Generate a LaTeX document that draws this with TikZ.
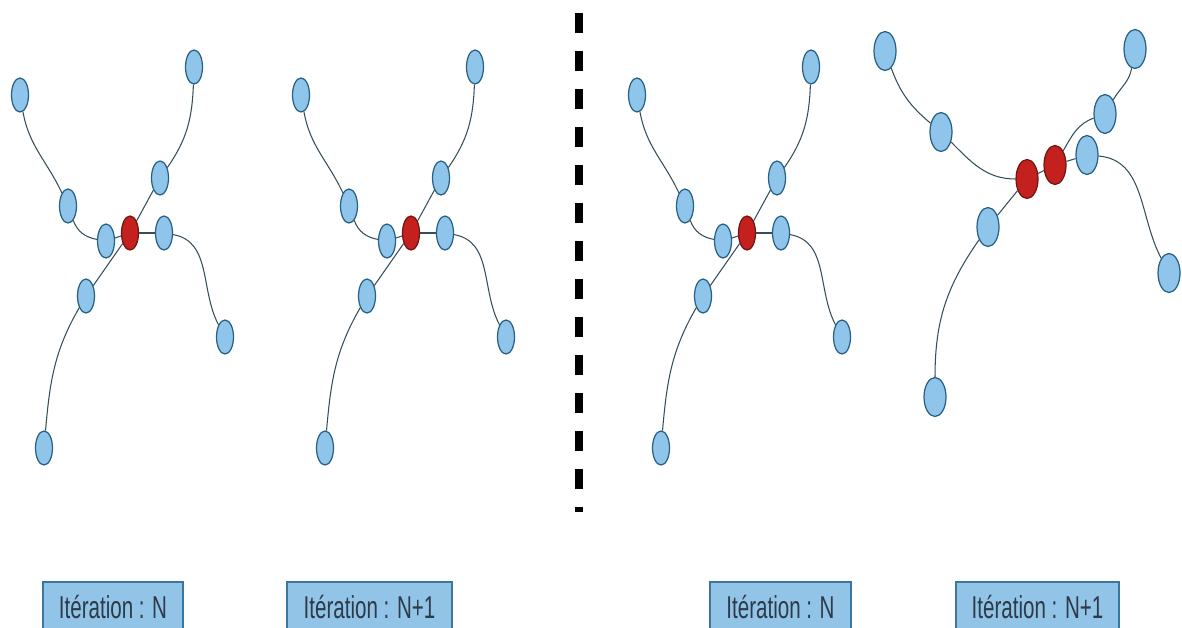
\documentclass[tikz,border=0pt]{standalone}
\usepackage{fontspec}
\newfontfamily\tagfont[FakeStretch=0.65]{Liberation Sans}
\usetikzlibrary{shapes.geometric}
\definecolor{nodeblue}{RGB}{143,197,235}
\definecolor{nodeedge}{RGB}{38,96,132}
\definecolor{nodered}{RGB}{196,32,30}
\definecolor{rededge}{RGB}{112,22,16}
\definecolor{linkgray}{RGB}{52,78,90}
\definecolor{tagblue}{RGB}{146,196,232}
\definecolor{tagedge}{RGB}{58,118,158}
\definecolor{tagtext}{RGB}{45,58,72}
\begin{document}
\begin{tikzpicture}[x=0.02cm,y=0.02cm,
    blob/.style={ellipse,draw=nodeedge,fill=nodeblue,line width=0.7pt,inner sep=0pt,
      minimum width=0.34cm,minimum height=0.68cm},
    hot/.style={blob,draw=rededge,fill=nodered},
    big/.style={minimum width=0.44cm,minimum height=0.78cm},
    link/.style={draw=linkgray,line width=0.6pt},
    tag/.style={draw=tagedge,fill=tagblue,line width=0.7pt,minimum height=1cm,
      text=tagtext,font=\tagfont\fontsize{18}{20}\selectfont}]
    \useasboundingbox (0,0) rectangle (1182,627);
    \clip (0,0) rectangle (1182,627);

    % same tree at iterations N and N+1, and at N again
    \foreach \dx/\g in {0/1,281/2,617/3}{
      \begin{scope}[shift={(\dx,0)}]
        \node[hot] (r\g) at (130,394) {};
        \node[blob] (a1\g) at (20,532) {};
        \node[blob] (a2\g) at (68,421) {};
        \node[blob] (a3\g) at (106,386) {};
        \node[blob] (b1\g) at (160,449) {};
        \node[blob] (b2\g) at (194,560) {};
        \node[blob] (c1\g) at (164,394) {};
        \node[blob] (c2\g) at (225,290) {};
        \node[blob] (d1\g) at (86,331) {};
        \node[blob] (d2\g) at (44,179) {};
        \draw[link] (a1\g) to[out=-80,in=115] (a2\g);
        \draw[link] (a2\g) to[out=-70,in=170] (a3\g);
        \draw[link] (a3\g) -- (r\g);
        \draw[link] (r\g) -- (b1\g);
        \draw[link] (b1\g) to[out=55,in=-92] (b2\g);
        \draw[link] (r\g) -- (c1\g);
        \draw[link] (c1\g) to[out=-10,in=118] (c2\g);
        \draw[link] (r\g) -- (d1\g);
        \draw[link] (d1\g) to[out=-120,in=85] (d2\g);
      \end{scope}
    }

    % split of the red node
    \node[hot,big] (r4) at (1027,448) {};
    \node[hot,big] (s4) at (1055,462) {};
    \node[blob,big] (e1) at (885,576) {};
    \node[blob,big] (e2) at (941,495) {};
    \node[blob,big] (f1) at (1105,513) {};
    \node[blob,big] (f2) at (1135,578) {};
    \node[blob,big] (g1) at (1087,472) {};
    \node[blob,big] (g2) at (1169,354) {};
    \node[blob,big] (h1) at (988,400) {};
    \node[blob,big] (h2) at (935,230) {};
    \draw[link] (e1) to[out=-70,in=140] (e2);
    \draw[link] (e2) to[out=-45,in=180] (r4);
    \draw[link] (r4) -- (s4);
    \draw[link] (s4) to[out=60,in=200] (f1);
    \draw[link] (f1) to[out=60,in=-100] (f2);
    \draw[link] (s4) -- (g1);
    \draw[link] (g1) to[out=-5,in=118] (g2);
    \draw[link] (r4) -- (h1);
    \draw[link] (h1) to[out=-125,in=90] (h2);

    \draw[line width=4pt,dash pattern=on 0.4cm off 0.36cm] (579,614) -- (579,115);

    \node[tag,minimum width=2.8cm] (t1) at (113,20) {Itération : N};
    \node[tag,minimum width=3.3cm] (t2) at (369.5,20) {Itération : N+1};
    \node[tag,minimum width=2.82cm] (t3) at (780.5,20) {Itération : N};
    \node[tag,minimum width=3.26cm] (t4) at (1037.5,20) {Itération : N+1};
\end{tikzpicture}
\end{document}
